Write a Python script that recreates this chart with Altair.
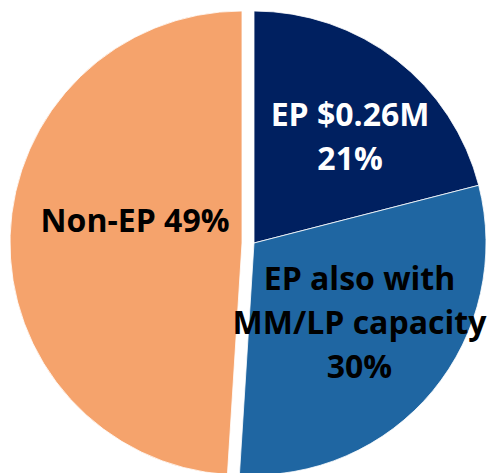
import math
import altair as alt
import pandas as pd

categories = ["EP $0.26M", "EP also with MM/LP capacity", "Non-EP"]
shares = [21, 30, 49]
label_lines = [["EP $0.26M", "21%"], ["EP also with", "MM/LP capacity", "30%"], ["Non-EP 49%"]]
slice_colors = ["#002060", "#1F66A2", "#F5A36C"]
text_colors = ["#FFFFFF", "#000000", "#000000"]

df = pd.DataFrame({
    "category": categories,
    "share": shares,
    "order": list(range(len(categories))),
    "label": label_lines,
    "tcolor": text_colors,
})

CX, CY, R = 254, 243, 232
EXPLODE = 12
LINE_H = 44

base = (
    alt.Chart(df)
    .transform_window(cum="sum(share)", sort=[alt.SortField("order")], frame=[None, 0])
    .transform_joinaggregate(total="sum(share)")
    .transform_calculate(
        start="(datum.cum - datum.share) / datum.total",
        end="datum.cum / datum.total",
        mid="(datum.cum - datum.share / 2) / datum.total",
    )
)

theta = alt.Theta("start:Q", scale=alt.Scale(domain=[0, 1], range=[0, 2 * math.pi]), stack=None)
color = alt.Color("category:N", scale=alt.Scale(domain=categories, range=slice_colors), legend=None)


def arc_layer(filt, cx):
    return (
        base.transform_filter(filt)
        .mark_arc(radius=R, stroke="white", strokeWidth=0.8)
        .encode(theta=theta, theta2="end:Q", color=color, x=alt.value(cx), y=alt.value(CY))
    )


def text_layer(filt, cx, r, dx, dy, nlines):
    return (
        base.transform_filter(filt)
        .transform_calculate(
            px=f"{cx} + {r} * sin(2 * PI * datum.mid)",
            py=f"{CY} - {r} * cos(2 * PI * datum.mid)",
        )
        .mark_text(font="Open Sans", fontSize=32, fontWeight="bold", lineHeight=LINE_H,
                   align="center", baseline="middle", dx=dx,
                   dy=dy - (nlines - 1) * LINE_H / 2)
        .encode(
            x=alt.X("px:Q", scale=None, axis=None),
            y=alt.Y("py:Q", scale=None, axis=None),
            text="label",
            color=alt.Color("tcolor:N", scale=None, legend=None),
        )
    )


chart = alt.layer(
    arc_layer("datum.order < 2", CX),
    arc_layer("datum.order == 2", CX - EXPLODE),
    text_layer("datum.order == 0", CX, 142, 9, 7, 2),
    text_layer("datum.order == 1", CX, 133, 3, -4, 3),
    text_layer("datum.order == 2", CX - EXPLODE, 109, 2, -18, 1),
).properties(
    width=490, height=473, padding=0, autosize=alt.AutoSizeParams(type="none")
).configure_view(stroke=None)

chart.save("out.html", embed_options={"renderer": "svg", "actions": False})
